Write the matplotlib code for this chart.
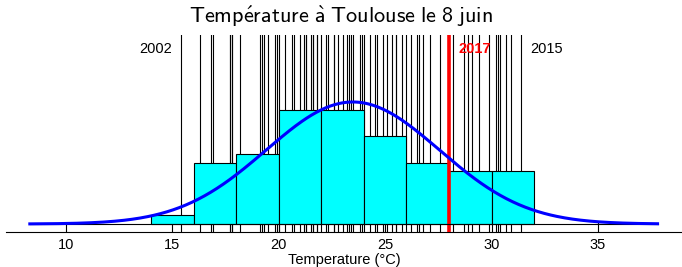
import numpy as np
from matplotlib import pyplot as plt
from matplotlib import transforms

# Temperatures on 8 June, one per year
temps = np.array([
    15.4,
    16.3, 16.8, 16.9, 17.7, 17.7, 17.8, 17.8,
    18.2, 19.1, 19.2, 19.3, 19.5, 19.8, 19.9, 20.0,
    20.3, 20.6, 20.7, 21.0, 21.2, 21.3, 21.3, 21.5, 21.6, 21.6, 21.8, 21.8, 22.0,
    22.2, 22.3, 22.6, 22.6, 22.8, 23.0, 23.2, 23.3, 23.4, 23.5, 23.8, 23.9, 24.0,
    24.3, 24.5, 24.6, 24.9, 25.1, 25.3, 25.5, 25.5, 25.8, 26.0,
    26.2, 26.5, 26.6, 26.8, 27.1, 27.6, 28.0,
    28.2, 28.7, 28.9, 29.1, 29.4, 29.9,
    30.2, 30.3, 30.4, 30.7, 30.9, 31.4,
])
bin_edges = np.arange(14, 33, 2)
t_2017 = 28.0
t_2002 = 15.4
t_2015 = 31.4
xticks = [10, 15, 20, 25, 30, 35]
curve_range = (8.3, 37.8)

# R style histogram: right-closed bins, density scale
counts = np.array([np.sum((temps > lo) & (temps <= hi))
                   for lo, hi in zip(bin_edges[:-1], bin_edges[1:])])
dens = counts / (len(temps) * np.diff(bin_edges))

mu, sd = temps.mean(), temps.std(ddof=1)
xs = np.linspace(curve_range[0], curve_range[1], 400)
ys = np.exp(-0.5 * ((xs - mu) / sd) ** 2) / (sd * np.sqrt(2 * np.pi))

plt.rcParams['font.family'] = ['Liberation Sans', 'DejaVu Sans']
# LaTeX-like sans title
plt.rcParams['mathtext.fontset'] = 'custom'
plt.rcParams['mathtext.rm'] = 'cmss10'
plt.rcParams['mathtext.sf'] = 'cmss10'
plt.rcParams['mathtext.it'] = 'cmss10'
plt.rcParams['mathtext.bf'] = 'cmss10'
plt.rcParams['mathtext.fallback'] = 'cm'

fig = plt.figure(figsize=(6.82, 2.67), dpi=100)
ax = fig.add_axes([6 / 682, 1 - 232 / 267, 676 / 682, (232 - 35) / 267])

for t in temps:
    ax.axvline(t, color='black', lw=0.8, zorder=1)
ax.bar(bin_edges[:-1], dens, width=np.diff(bin_edges), align='edge',
       color='#00FFFF', edgecolor='black', lw=0.8, zorder=2)
ax.axvline(t_2017, color='red', lw=2.6, zorder=3)
ax.plot(curve_range, [0, 0], color='black', lw=0.8, zorder=3)
ax.plot(xs, ys, color='#0000FF', lw=2.2, zorder=4)

# year labels
tr = transforms.blended_transform_factory(ax.transData, ax.transAxes)
ax.annotate('2002', (t_2002, 0.93), xycoords=tr, xytext=(-6.5, 0),
            textcoords='offset points', ha='right', va='center', fontsize=10.5)
ax.annotate('2017', (t_2017, 0.93), xycoords=tr, xytext=(6.5, 0),
            textcoords='offset points', ha='left', va='center', fontsize=10.5,
            color='red', fontweight='bold')
ax.annotate('2015', (t_2015, 0.93), xycoords=tr, xytext=(6.5, 0),
            textcoords='offset points', ha='left', va='center', fontsize=10.5)

ax.set_xlim(7.18, 38.95)
ax.set_ylim(-8 / 1245, 189 / 1245)
ax.set_xticks(xticks)
ax.tick_params(axis='x', direction='in', length=7, width=0.8, labelsize=10.5, pad=4)
ax.set_yticks([])
for s in ['left', 'right', 'top']:
    ax.spines[s].set_visible(False)
ax.spines['bottom'].set_linewidth(0.8)
ax.set_xlabel('Temperature (°C)', fontsize=10.5, labelpad=1)

fig.text(0.5, 1 - 16 / 267,
         r'$\mathrm{Temp\acute{e}rature\ \grave{a}\ Toulouse\ le\ 8\ juin}$',
         ha='center', va='center', fontsize=16)

plt.savefig('out.png', dpi=100)
